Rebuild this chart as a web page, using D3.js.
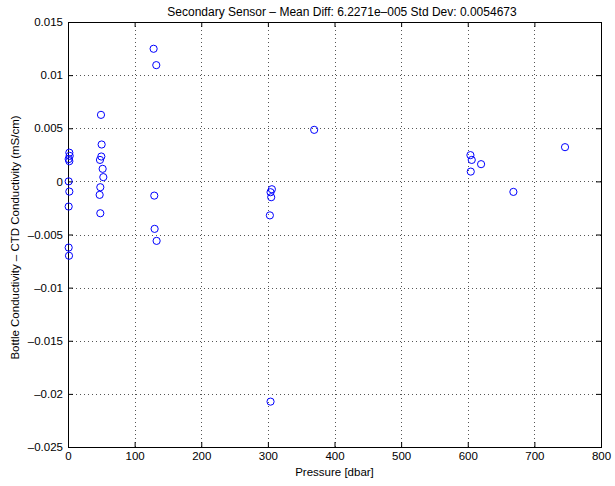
<!DOCTYPE html>
<html><head><meta charset="utf-8">
<script src="https://cdn.jsdelivr.net/npm/d3@7"></script>
<style>
body{margin:0;background:#fff;}
svg text{font-family:"Liberation Sans",Arial,sans-serif;fill:#000;}
</style></head>
<body><svg id="c" width="615" height="486"></svg>
<script>
const pressure = [2,2.5,1,2,1,2,1,1,1.5,
  49.5,50.5,50,48,52,53,48.5,47.5,48.5,
  128.5,132.5,129.5,130,133,
  369.5,306,304,305,303,304,
  604,606,620,604.5,668.5,746];
const diff = [0.0027,0.0024,0.0021,0.0019,0.0,-0.00096,-0.00237,-0.00623,-0.0070,
  0.00626,0.00347,0.00234,0.00202,0.00118,0.0004,-0.00055,-0.00127,-0.0030,
  0.01248,0.01094,-0.00134,-0.00447,-0.0056,
  0.00485,-0.00074,-0.00102,-0.00149,-0.0032,-0.02073,
  0.00247,0.00202,0.00162,0.00092,-0.00099,0.00322];
const xTicks = [0,100,200,300,400,500,600,700,800];
const yTicks = [0.015,0.01,0.005,0,-0.005,-0.01,-0.015,-0.02,-0.025];
const titleText = "Secondary Sensor \u2013 Mean Diff: 6.2271e\u2013005 Std Dev: 0.0054673";
const xLabel = "Pressure [dbar]";
const yLabel = "Bottle Conductivity \u2013 CTD Conductivity (mS/cm)";

const L=68,R=601,T=22,B=447;
const svg=d3.select("#c");
const x=d3.scaleLinear().domain([0,800]).range([L,R]);
const y=d3.scaleLinear().domain([-0.025,0.015]).range([B,T]);
const fmt=v=>(v<0?"\u2013":"")+String(Math.abs(v));

// grid
const g=svg.append("g");
g.selectAll("line.gx").data(xTicks.slice(1,-1)).join("line")
 .attr("x1",d=>Math.round(x(d))+0.5).attr("x2",d=>Math.round(x(d))+0.5)
 .attr("y1",T).attr("y2",B).attr("stroke","#555").attr("stroke-dasharray","1,3");
g.selectAll("line.gy").data(yTicks.slice(1,-1)).join("line")
 .attr("y1",d=>Math.round(y(d))+0.5).attr("y2",d=>Math.round(y(d))+0.5)
 .attr("x1",L).attr("x2",R).attr("stroke","#555").attr("stroke-dasharray","1,3");

// axes
const ax=svg.append("g").attr("transform",`translate(0,${B})`)
 .call(d3.axisBottom(x).tickValues(xTicks).tickSize(-5).tickPadding(5).tickFormat(d=>d));
const ay=svg.append("g").attr("transform",`translate(${L},0)`)
 .call(d3.axisLeft(y).tickValues(yTicks).tickSize(-5).tickPadding(5).tickFormat(fmt));
const axT=svg.append("g").attr("transform",`translate(0,${T})`)
 .call(d3.axisTop(x).tickValues(xTicks).tickSize(-5).tickFormat(""));
const ayR=svg.append("g").attr("transform",`translate(${R},0)`)
 .call(d3.axisRight(y).tickValues(yTicks).tickSize(-5).tickFormat(""));
[ax,ay,axT,ayR].forEach(a=>{a.select(".domain").remove();
 a.selectAll("text").attr("font-size",11.5).attr("font-family","Liberation Sans");
 a.selectAll("line").attr("stroke","#000");});
svg.append("rect").attr("x",L+0.5).attr("y",T+0.5).attr("width",R-L).attr("height",B-T)
 .attr("fill","none").attr("stroke","#000").attr("stroke-width",1);

// points
svg.append("g").selectAll("circle").data(pressure.map((p,i)=>[p,diff[i]])).join("circle")
 .attr("cx",d=>x(d[0])).attr("cy",d=>y(d[1])).attr("r",3.6)
 .attr("fill","none").attr("stroke","#0000ff").attr("stroke-width",1);

// labels
svg.append("text").attr("x",342).attr("y",16).attr("text-anchor","middle")
 .attr("font-size",12).text(titleText);
svg.append("text").attr("x",(L+R)/2).attr("y",476).attr("text-anchor","middle")
 .attr("font-size",11.5).text(xLabel);
svg.append("text").attr("transform",`translate(19,${(T+B)/2+3}) rotate(-90)`)
 .attr("text-anchor","middle").attr("font-size",11.5).text(yLabel);
</script></body></html>
